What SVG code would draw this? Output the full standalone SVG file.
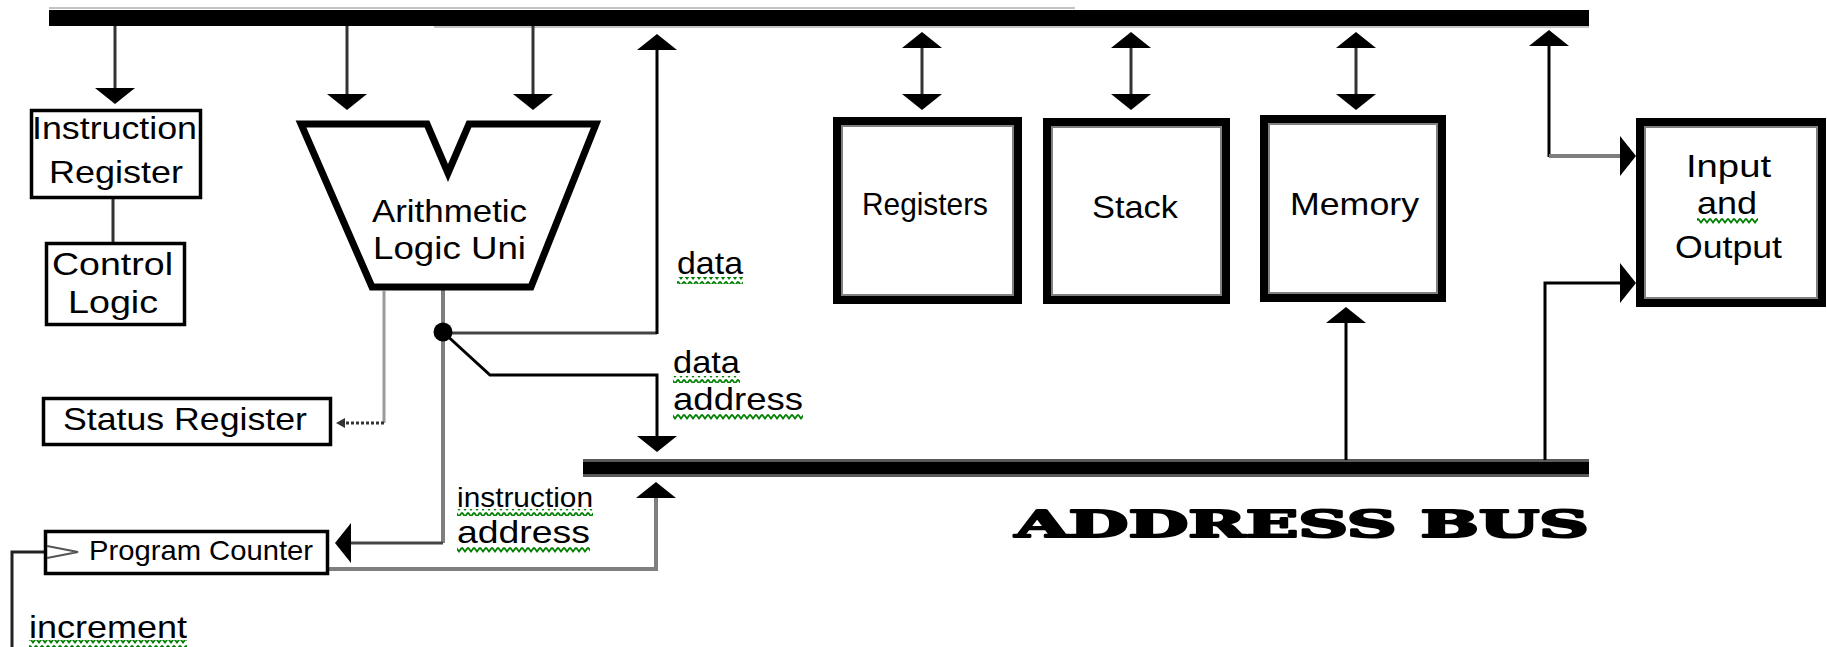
<svg xmlns="http://www.w3.org/2000/svg" width="1827" height="647" viewBox="0 0 1827 647">
  <style>
    .lbl { font-family: "Liberation Sans", Arial, sans-serif; font-size: 32px; fill: #000; }
    .small { font-size: 28px; }
    .bus { fill: #000; }
    .box { fill: #fff; stroke: #000; stroke-width: 3.5; }
    .big { fill: #fff; stroke: #000; stroke-width: 8; }
    .inner { fill: none; stroke: #808080; stroke-width: 2; }
    .wire { fill: none; stroke: #000; stroke-width: 3; }
    .dark { fill: none; stroke: #333; stroke-width: 3; }
    .grey { fill: none; stroke: #7f7f7f; stroke-width: 4; }
    .light { fill: none; stroke: #9a9a9a; stroke-width: 3; }
    .squig { fill: url(#squig); }
    .title { font-family: "DejaVu Serif", "Liberation Serif", serif; font-weight: bold; font-size: 38px; fill: #000; stroke: #000; stroke-width: 2.2; stroke-linejoin: round; }
  </style>
  <defs>
    <!-- filled triangular arrowhead, base sits on the line end -->
    <marker id="arr" viewBox="0 0 16 40" refX="0" refY="20" markerWidth="16" markerHeight="40" markerUnits="userSpaceOnUse" orient="auto-start-reverse">
      <path d="M0,0 L16,20 L0,40 Z" fill="#000"/>
    </marker>
    <marker id="arrSmall" viewBox="0 0 9 10" refX="0" refY="5" markerWidth="9" markerHeight="10" markerUnits="userSpaceOnUse" orient="auto">
      <path d="M0,0 L9,5 L0,10 Z" fill="#333"/>
    </marker>
    <!-- green wavy underline -->
    <pattern id="squig" width="6" height="7" patternUnits="userSpaceOnUse">
      <path d="M0,1.5 L3,5.5 L6,1.5" fill="none" stroke="#008000" stroke-width="1.8"/>
    </pattern>
  </defs>

  <!-- data bus (top) -->
  <g id="data-bus">
    <line x1="49" y1="8" x2="1075" y2="8" stroke="#c4c4c4" stroke-width="2"/>
    <rect class="bus" x="49" y="10" width="1540" height="16"/>
    <line x1="434" y1="27" x2="1589" y2="27" stroke="#c4c4c4" stroke-width="2"/>
  </g>

  <!-- address bus -->
  <g id="address-bus">
    <rect x="583" y="459" width="1006" height="18" fill="#5a5a5a"/>
    <rect class="bus" x="583" y="462" width="1006" height="12"/>
    <text class="title" x="1015" y="537" textLength="574" lengthAdjust="spacingAndGlyphs">ADDRESS BUS</text>
  </g>

  <!-- connectors -->
  <g id="connectors">
    <!-- data bus down to instruction register and ALU inputs -->
    <line class="dark" x1="115" y1="26" x2="115" y2="88" marker-end="url(#arr)"/>
    <line class="dark" x1="347" y1="26" x2="347" y2="94" marker-end="url(#arr)"/>
    <line class="dark" x1="533" y1="26" x2="533" y2="94" marker-end="url(#arr)"/>

    <!-- instruction register to control logic -->
    <line class="dark" x1="113" y1="198" x2="113" y2="243"/>

    <!-- two-way links to registers, stack, memory -->
    <line class="dark" x1="922" y1="48" x2="922" y2="94" marker-start="url(#arr)" marker-end="url(#arr)"/>
    <line class="dark" x1="1131" y1="48" x2="1131" y2="94" marker-start="url(#arr)" marker-end="url(#arr)"/>
    <line class="dark" x1="1356" y1="48" x2="1356" y2="94" marker-start="url(#arr)" marker-end="url(#arr)"/>

    <!-- input/output to and from the buses -->
    <line class="wire" x1="1549" y1="157" x2="1549" y2="46" marker-end="url(#arr)"/>
    <line class="grey" x1="1549" y1="156" x2="1620" y2="156" marker-end="url(#arr)"/>
    <polyline class="wire" points="1545,460 1545,283 1620,283" marker-end="url(#arr)"/>

    <!-- address bus up to memory -->
    <line class="wire" x1="1346" y1="460" x2="1346" y2="323" marker-end="url(#arr)"/>

    <!-- ALU output -->
    <line class="grey" x1="443" y1="290" x2="443" y2="332"/>
    <line x1="451" y1="333" x2="657" y2="333" stroke="#444" stroke-width="3"/>
    <line class="wire" x1="657" y1="334" x2="657" y2="50" marker-end="url(#arr)"/>
    <polyline class="wire" points="443,332 490,375 657,375 657,436" marker-end="url(#arr)"/>
    <polyline class="grey" points="443,332 443,543"/>
    <line x1="443" y1="543" x2="351" y2="543" stroke="#444" stroke-width="3" marker-end="url(#arr)"/>

    <!-- ALU flags to status register -->
    <polyline class="light" points="384,291 384,423"/>
    <line x1="384" y1="423" x2="345" y2="423" stroke="#333" stroke-width="3" stroke-dasharray="3 2" marker-end="url(#arrSmall)"/>

    <!-- program counter to address bus -->
    <polyline class="grey" points="329,569 656,569 656,498" marker-end="url(#arr)"/>

    <!-- increment input -->
    <polyline fill="none" stroke="#222" stroke-width="3" points="46,552 12,552 12,647"/>
  </g>

  <!-- labels on wires -->
  <g id="wire-labels">
    <text class="lbl" x="677" y="274" textLength="66" lengthAdjust="spacingAndGlyphs">data</text>
    <rect class="squig" x="677" y="277" width="66" height="7"/>
    <text class="lbl" x="673" y="373" textLength="67" lengthAdjust="spacingAndGlyphs">data</text>
    <rect class="squig" x="673" y="376" width="67" height="7"/>
    <text class="lbl" x="673" y="410" textLength="130" lengthAdjust="spacingAndGlyphs">address</text>
    <rect class="squig" x="673" y="413" width="130" height="7"/>
    <text class="lbl small" x="457" y="507" textLength="136" lengthAdjust="spacingAndGlyphs">instruction</text>
    <rect class="squig" x="457" y="509" width="136" height="7"/>
    <text class="lbl" x="457" y="543" textLength="133" lengthAdjust="spacingAndGlyphs">address</text>
    <rect class="squig" x="457" y="546" width="133" height="7"/>
    <text class="lbl" x="29" y="638" textLength="158" lengthAdjust="spacingAndGlyphs">increment</text>
    <rect class="squig" x="29" y="640" width="158" height="7"/>
  </g>

  <g id="instruction-register">
    <rect class="box" x="31.5" y="110.5" width="169" height="87"/>
    <text class="lbl" x="32" y="139" textLength="165" lengthAdjust="spacingAndGlyphs">Instruction</text>
    <text class="lbl" x="49" y="183" textLength="134" lengthAdjust="spacingAndGlyphs">Register</text>
  </g>

  <g id="control-logic">
    <rect class="box" x="46.5" y="243.5" width="138" height="81"/>
    <text class="lbl" x="52" y="275" textLength="121" lengthAdjust="spacingAndGlyphs">Control</text>
    <text class="lbl" x="68" y="313" textLength="90" lengthAdjust="spacingAndGlyphs">Logic</text>
  </g>

  <g id="alu">
    <path d="M301,124 L427,124 L448,173 L469,124 L596,124 L531,287 L372,287 Z" fill="#fff" stroke="#000" stroke-width="7"/>
    <text class="lbl" x="372" y="222" textLength="155" lengthAdjust="spacingAndGlyphs">Arithmetic</text>
    <text class="lbl" x="373" y="259" textLength="153" lengthAdjust="spacingAndGlyphs">Logic Uni</text>
    <circle cx="443" cy="332" r="9.5" fill="#000"/>
  </g>

  <g id="status-register">
    <rect class="box" x="43.5" y="398.5" width="287" height="46" stroke-width="3"/>
    <text class="lbl" x="63" y="430" textLength="244" lengthAdjust="spacingAndGlyphs">Status Register</text>
  </g>

  <g id="program-counter">
    <rect class="box" x="45.5" y="531.5" width="282" height="42"/>
    <polyline points="47,546 78,552 47,558" fill="none" stroke="#555" stroke-width="2"/>
    <text class="lbl small" x="89" y="560" textLength="224" lengthAdjust="spacingAndGlyphs">Program Counter</text>
  </g>

  <g id="registers">
    <rect class="big" x="837" y="121" width="181" height="179"/>
    <rect class="inner" x="842" y="126" width="171" height="169"/>
    <text class="lbl" font-size="29" x="862" y="215" textLength="126" lengthAdjust="spacingAndGlyphs">Registers</text>
  </g>

  <g id="stack">
    <rect class="big" x="1047" y="122" width="179" height="178"/>
    <rect class="inner" x="1052" y="127" width="169" height="168"/>
    <text class="lbl" x="1092" y="218" textLength="86" lengthAdjust="spacingAndGlyphs">Stack</text>
  </g>

  <g id="memory">
    <rect class="big" x="1264" y="119" width="178" height="179"/>
    <rect class="inner" x="1269" y="124" width="168" height="169"/>
    <text class="lbl" x="1290" y="215" textLength="129" lengthAdjust="spacingAndGlyphs">Memory</text>
  </g>

  <g id="input-output">
    <rect class="big" x="1640" y="122" width="182" height="181"/>
    <rect class="inner" x="1645" y="127" width="172" height="171"/>
    <text class="lbl" x="1686" y="177" textLength="85" lengthAdjust="spacingAndGlyphs">Input</text>
    <text class="lbl" x="1697" y="214" textLength="60" lengthAdjust="spacingAndGlyphs">and</text>
    <rect class="squig" x="1697" y="217" width="61" height="7"/>
    <text class="lbl" x="1675" y="258" textLength="107" lengthAdjust="spacingAndGlyphs">Output</text>
  </g>
</svg>
